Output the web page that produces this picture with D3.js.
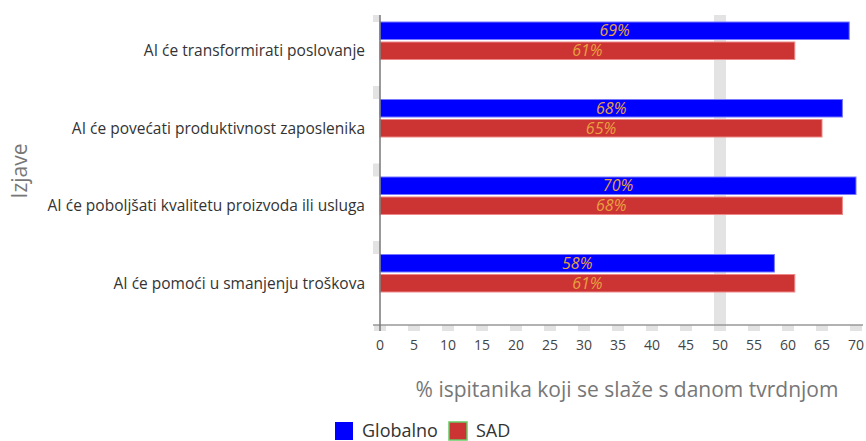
<!DOCTYPE html>
<html>
<head>
<meta charset="utf-8">
<script src="https://cdn.jsdelivr.net/npm/d3@7"></script>
<style>
  body { margin: 0; background: #fff; }
  svg { font-family: "Open Sans", sans-serif; display: block; }
</style>
</head>
<body>
<div id="chart"></div>
<script>
var categories = ["AI će transformirati poslovanje", "AI će povećati produktivnost zaposlenika",
  "AI će poboljšati kvalitetu proizvoda ili usluga", "AI će pomoći u smanjenju troškova"];
var seriesNames = ["Globalno", "SAD"];
var globalno = [69, 68, 70, 58];
var sad = [61, 65, 68, 61];
var xTicks = [0, 5, 10, 15, 20, 25, 30, 35, 40, 45, 50, 55, 60, 65, 70];
var refLine = 50;

var colors = ["#0000ff", "#cc3333"];
var strokes = ["#7777ff", "#ee8888"];

var width = 866, height = 441;
var margin = {top: 15, left: 380, right: 10, bottom: 116};

var svg = d3.select("#chart").append("svg")
    .attr("width", width)
    .attr("height", height);

var x = d3.scaleLinear()
    .domain([0, 70])
    .range([margin.left, 856]);

var y = d3.scaleBand()
    .domain(categories)
    .range([margin.top, 325]);

var x0 = x(0), yBottom = 325;

// reference band at 50
svg.append("rect")
    .attr("x", x(refLine) - 6)
    .attr("y", margin.top)
    .attr("width", 12)
    .attr("height", yBottom - margin.top)
    .attr("fill", "#e3e3e3");

// x tick marks (grey blocks under the axis)
svg.selectAll(".xtick")
    .data(xTicks)
    .enter().append("rect")
    .attr("x", function(d) { return x(d) - 6; })
    .attr("y", yBottom)
    .attr("width", 12)
    .attr("height", 6)
    .attr("fill", "#e3e3e3");

// y tick marks at band edges
var edges = categories.map(function(c) { return y(c); });
svg.selectAll(".ytick")
    .data(edges)
    .enter().append("rect")
    .attr("x", x0 - 7)
    .attr("y", function(d, i) { return i == 0 ? d : d - 6.5; })
    .attr("width", 7)
    .attr("height", function(d, i) { return i == 0 ? 7 : 13; })
    .attr("fill", "#e3e3e3");

// bars
var barH = 17.5, barGap = 2.5, barOff = 7;
var allSeries = [globalno, sad];
allSeries.forEach(function(vals, s) {
  var g = svg.append("g");
  g.selectAll("rect")
    .data(vals)
    .enter().append("rect")
    .attr("x", x0)
    .attr("y", function(d, i) { return y(categories[i]) + barOff + s * (barH + barGap); })
    .attr("width", function(d) { return x(d) - x0; })
    .attr("height", barH)
    .attr("fill", colors[s])
    .attr("stroke", strokes[s])
    .attr("stroke-width", 1);
  g.selectAll("text")
    .data(vals)
    .enter().append("text")
    .attr("x", function(d) { return (x0 + x(d)) / 2; })
    .attr("y", function(d, i) { return y(categories[i]) + barOff + s * (barH + barGap) + barH / 2; })
    .attr("dy", "0.35em")
    .attr("text-anchor", "middle")
    .attr("font-style", "italic")
    .attr("font-size", 16)
    .attr("fill", "#e8a040")
    .text(function(d) { return d + "%"; });
});

// axes lines
svg.append("line")
    .attr("x1", x0 - 7).attr("x2", 863)
    .attr("y1", yBottom).attr("y2", yBottom)
    .attr("stroke", "#999").attr("stroke-width", 1.5);
svg.append("line")
    .attr("x1", x0).attr("x2", x0)
    .attr("y1", margin.top).attr("y2", yBottom + 6)
    .attr("stroke", "#777").attr("stroke-width", 1.5);

// x tick labels
svg.selectAll(".xlabel")
    .data(xTicks)
    .enter().append("text")
    .attr("x", function(d) { return x(d); })
    .attr("y", 350)
    .attr("text-anchor", "middle")
    .attr("font-size", 14)
    .attr("fill", "#444")
    .text(function(d) { return d; });

// category labels
svg.selectAll(".ylabel")
    .data(categories)
    .enter().append("text")
    .attr("x", 365)
    .attr("y", function(d) { return y(d) + y.bandwidth() / 2 - 3; })
    .attr("dy", "0.35em")
    .attr("text-anchor", "end")
    .attr("font-size", 15.5)
    .attr("fill", "#333")
    .text(function(d) { return d; });

// axis titles
svg.append("text")
    .attr("x", 627)
    .attr("y", 397)
    .attr("text-anchor", "middle")
    .attr("font-size", 21)
    .attr("fill", "#777")
    .text("% ispitanika koji se slaže s danom tvrdnjom");

svg.append("text")
    .attr("transform", "translate(27,171) rotate(-90)")
    .attr("text-anchor", "middle")
    .attr("font-size", 21)
    .attr("fill", "#777")
    .text("Izjave");

// legend
var legX = [335, 449];
seriesNames.forEach(function(name, i) {
  svg.append("rect")
    .attr("x", legX[i]).attr("y", 422)
    .attr("width", 18).attr("height", 18)
    .attr("fill", colors[i])
    .attr("stroke", i == 1 ? "#66cc66" : "none")
    .attr("stroke-width", 1.5);
  svg.append("text")
    .attr("x", legX[i] + 27).attr("y", 437)
    .attr("font-size", 18)
    .attr("fill", "#333")
    .text(name);
});
</script>
</body>
</html>
